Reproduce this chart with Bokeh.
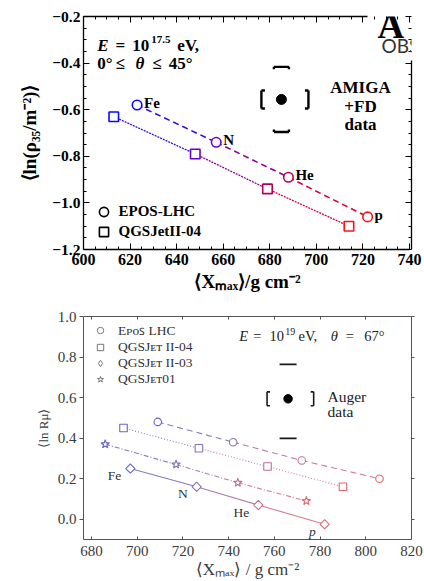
import math
from bokeh.plotting import figure
from bokeh.models import (FixedTicker, LinearAxis, Range1d, Label, Legend, LegendItem,
                          ColumnDataSource, CustomLabelingPolicy)
from bokeh.layouts import column
from bokeh.embed import file_html
from bokeh.resources import INLINE
from bokeh.core.properties import value

# ---------------- data : top panel ----------------
elements = ["Fe", "N", "He", "p"]
top_epos_xmax = [623, 657, 688, 722]
top_epos_rho = [-0.58, -0.74, -0.89, -1.06]
top_qgs_xmax = [613, 648, 679, 714]
top_qgs_rho = [-0.63, -0.79, -0.94, -1.10]
amiga_xmax = [685]
amiga_rho = [-0.556]
amiga_sys_xmax_lo = 8.6
amiga_sys_xmax_hi = 11.6
amiga_sys_rho_lo = 0.14
amiga_sys_rho_hi = 0.14
top_xticks = [600, 620, 640, 660, 680, 700, 720, 740]
top_xtick_labels = ["600", "620", "640", "660", "680", "700", "720", "740"]
top_yticks = [-1.2, -1.0, -0.8, -0.6, -0.4, -0.2]
top_ytick_labels = ["\u22121.2", "\u22121.0", "\u22120.8", "\u22120.6", "\u22120.4", "\u22120.2"]

# ---------------- data : bottom panel ----------------
bot_epos_xmax = [709, 742, 772, 806]
bot_epos_lnr = [0.48, 0.38, 0.29, 0.20]
bot_qgs4_xmax = [694, 727, 757, 790]
bot_qgs4_lnr = [0.45, 0.35, 0.26, 0.16]
bot_qgs3_xmax = [697, 726, 753, 782]
bot_qgs3_lnr = [0.25, 0.16, 0.07, -0.025]
bot_qgs01_xmax = [686, 717, 744, 774]
bot_qgs01_lnr = [0.37, 0.27, 0.18, 0.09]
auger_xmax = [766]
auger_lnr = [0.594]
auger_sys_xmax_lo = 9.2
auger_sys_xmax_hi = 11.2
auger_sys_lnr_lo = 0.195
auger_sys_lnr_hi = 0.17
bot_xticks = [680, 700, 720, 740, 760, 780, 800, 820]
bot_xtick_labels = ["680", "700", "720", "740", "760", "780", "800", "820"]
bot_yticks = [0.0, 0.2, 0.4, 0.6, 0.8, 1.0]
bot_ytick_labels = ["0.0", "0.2", "0.4", "0.6", "0.8", "1.0"]

# ---------------- styles ----------------
SERIF = "Liberation Serif"
top_colors = ["#0a0aff", "#6a00cc", "#b4005c", "#ff1010"]
top_seg_colors = ["#3a00e6", "#8f0094", "#dc0038"]
bot_colors = ["#6464c8", "#8c70b4", "#c07094", "#e06a6a"]
bot_seg_colors = ["#7a6abe", "#a670a4", "#d06d80"]
NAN = float("nan")

W = 424
FL, FR = 83, 411            # shared frame left/right (the column aligns them)

# top geometry: 600 -> x=83, 740 -> x=409
T_H, T_OY, T_FT, T_FH = 298, 0, 16, 233
T_PPU = (409 - 83) / 140.0
T_X0 = 600.0
T_X1 = T_X0 + (FR - FL) / T_PPU
T_Y0, T_Y1 = -1.2, -0.2

# bottom geometry: 680 -> x=91, 820 -> x=411
B_H, B_OY, B_FT, B_FH = 283, 298, 18, 225
B_PPU = (411 - 91) / 140.0
B_X1 = 820.0
B_X0 = B_X1 - (FR - FL) / B_PPU
B_Y0, B_Y1 = -0.1, 1.0


def top_xy(rx, ry):
    x = T_X0 + (rx - FL) / T_PPU
    y = T_Y1 - ((ry - T_OY) - T_FT) * (T_Y1 - T_Y0) / T_FH
    return x, y


def bot_xy(rx, ry):
    x = B_X0 + (rx - FL) / B_PPU
    y = B_Y1 - ((ry - B_OY) - B_FT) * (B_Y1 - B_Y0) / B_FH
    return x, y


def make_fig(H, FT, FH, xr, yr):
    p = figure(width=W, height=H,
               min_border_left=FL, min_border_right=W - FR,
               min_border_top=FT, min_border_bottom=H - FT - FH,
               x_range=Range1d(*xr), y_range=Range1d(*yr),
               output_backend="svg", toolbar_location=None,
               outline_line_color=None, background_fill_color="white",
               border_fill_color="white")
    p.grid.visible = False
    return p


HIDE = CustomLabelingPolicy(code="for (const i of indices) { indices.unset(i) }\nreturn indices")


def style_axis(ax, ticks, labels, minor, font_size, style, color, line_color,
               tin, tout, min_in, lw, standoff, show=True):
    ax.ticker = FixedTicker(ticks=ticks, minor_ticks=minor)
    ax.major_label_overrides = dict(zip(ticks, labels))
    ax.major_label_text_font = SERIF
    ax.major_label_text_font_size = font_size if show else "0px"
    ax.major_label_text_font_style = style
    ax.major_label_text_color = color
    ax.major_label_standoff = standoff if show else 0
    if not show:
        ax.major_label_policy = HIDE
    ax.axis_line_color = line_color
    ax.axis_line_width = lw
    ax.major_tick_line_color = line_color
    ax.minor_tick_line_color = line_color
    ax.major_tick_in = tin
    ax.major_tick_out = tout
    ax.minor_tick_in = min_in
    ax.minor_tick_out = 0


def sys_box(p, xs, ys, sx_lo, sx_hi, sy_lo, sy_hi, ux, uy, half_h, serif,
            half_w, end, lw, color):
    x0, y0, x1, y1 = [], [], [], []
    for x, y in zip(xs, ys):
        xl, xr_ = x - sx_lo, x + sx_hi
        yt, yb = y + sy_hi, y - sy_lo
        hh, sr, hw, en = half_h * uy, serif * ux, half_w * ux, end * uy
        segs = [(xl, y - hh, xl, y + hh), (xl, y + hh, xl + sr, y + hh), (xl, y - hh, xl + sr, y - hh),
                (xr_, y - hh, xr_, y + hh), (xr_, y + hh, xr_ - sr, y + hh), (xr_, y - hh, xr_ - sr, y - hh),
                (x - hw, yt, x + hw, yt), (x - hw, yb, x + hw, yb)]
        if end > 0:
            segs += [(x - hw, yt, x - hw, yt - en), (x + hw, yt, x + hw, yt - en),
                     (x - hw, yb, x - hw, yb + en), (x + hw, yb, x + hw, yb + en)]
        for a, b, c, d in segs:
            x0.append(a); y0.append(b); x1.append(c); y1.append(d)
    p.segment(x0, y0, x1, y1, line_color=color, line_width=lw)


def add_label(p, conv, rx, ry, text, size, style="normal", font=SERIF, align="left",
              color="black", baseline="alphabetic"):
    x, y = conv(rx, ry)
    p.add_layout(Label(x=x, y=y, text=text, text_font=font, text_font_size=size,
                       text_font_style=style, text_align=align, text_baseline=baseline,
                       text_color=color))


# ====================== TOP PANEL ======================
p1 = make_fig(T_H, T_FT, T_FH, (T_X0, T_X1), (T_Y0, T_Y1))
t_xminor = [v for v in range(600, 741, 5) if v % 20]
t_yminor = [round(-1.2 + 0.05 * i, 2) for i in range(21) if i % 4]

style_axis(p1.xaxis[0], top_xticks, top_xtick_labels, t_xminor, "16px", "bold", "black", "black", 6, 0, 3, 1.3, 4)
p1.xaxis[0].bounds = (600, 740)
style_axis(p1.yaxis[0], top_yticks, top_ytick_labels, t_yminor, "15.5px", "bold", "black", "black", 6, 0, 3, 1.3, 3)
p1.xaxis[0].axis_label = "\u27e8X\u2098\u2090\u2093\u27e9/g cm\u207b\u00b2"
p1.yaxis[0].axis_label = "\u27e8ln(\u03c1\u2083\u2085/m\u207b\u00b2)\u27e9"
for ax, sz in ((p1.xaxis[0], "19px"), (p1.yaxis[0], "19px")):
    ax.axis_label_text_font = SERIF
    ax.axis_label_text_font_style = "bold"
    ax.axis_label_text_font_size = sz
    ax.axis_label_text_color = "black"
p1.xaxis[0].axis_label_standoff = 3
p1.yaxis[0].axis_label_standoff = 9

ax_top = LinearAxis(bounds=(600, 722))
style_axis(ax_top, top_xticks, top_xtick_labels, t_xminor, "15px", "bold", "black", "black", 6, 0, 3, 1.3, 0, show=False)
p1.add_layout(ax_top, "above")
ax_right = LinearAxis(bounds=(-1.2, -0.39))
style_axis(ax_right, top_yticks, top_ytick_labels, t_yminor, "15px", "bold", "black", "black", 6, 0, 3, 1.3, 0, show=False)
p1.add_layout(ax_right, "right")

# lines
p1.segment(top_qgs_xmax[:-1], top_qgs_rho[:-1], top_qgs_xmax[1:], top_qgs_rho[1:],
           line_color=top_seg_colors, line_width=1.3, line_dash="2 1")
p1.segment(top_epos_xmax[:-1], top_epos_rho[:-1], top_epos_xmax[1:], top_epos_rho[1:],
           line_color=top_seg_colors, line_width=1.6, line_dash="6 4")
p1.scatter(top_qgs_xmax, top_qgs_rho, marker="square", size=9.5, line_color=top_colors,
           fill_color="white", line_width=1.6)
p1.scatter(top_epos_xmax, top_epos_rho, marker="circle", size=9.5, line_color=top_colors,
           fill_color="white", line_width=1.6)
p1.text(x=top_epos_xmax, y=top_epos_rho, text=elements, x_offset=7, y_offset=-2,
        text_font=value(SERIF), text_font_style="bold", text_font_size="15px",
        text_align="left", text_baseline="alphabetic", text_color="black")

# AMIGA data point with systematics
sys_box(p1, amiga_xmax, amiga_rho, amiga_sys_xmax_lo, amiga_sys_xmax_hi, amiga_sys_rho_lo,
        amiga_sys_rho_hi, 1.0 / T_PPU, (T_Y1 - T_Y0) / T_FH, 9, 3.5, 7.5, 2.5, 2.4, "black")
p1.scatter(amiga_xmax, amiga_rho, marker="circle", size=10, color="black")

# texts
for rx, ry, t, st, sz in [(96.7, 45, "E", "bold italic", "17px"), (115, 45, "=", "bold", "17px"),
                          (131.7, 45, "10", "bold", "17px"), (150.7, 39, "17.5", "bold", "11px"),
                          (176.7, 45, "eV,", "bold", "17px"),
                          (96.7, 63.3, "0\u00b0", "bold", "17px"), (115, 63.3, "\u2264", "bold", "17px"),
                          (135, 63.3, "\u03b8", "bold italic", "17px"), (151.7, 63.3, "\u2264", "bold", "17px"),
                          (168.3, 63.3, "45\u00b0", "bold", "17px")]:
    add_label(p1, top_xy, rx, ry, t, sz, st)
for ry, t in [(87.3, "AMIGA"), (106, "+FD"), (124, "data")]:
    add_label(p1, top_xy, 360, ry, t, "17px", "bold", align="center")

# logo (cropped in the original)
add_label(p1, top_xy, 377, 25, "A", "37px", "bold")
add_label(p1, top_xy, 381, 45, "OBS", "19px", "normal", font="Lato", color="#333333")

# legend
rc = p1.scatter(x=[NAN], y=[NAN], marker="circle", size=9, line_color="black", fill_color="white", line_width=1.6)
rs = p1.scatter(x=[NAN], y=[NAN], marker="square", size=9, line_color="black", fill_color="white", line_width=1.6)
for r, lab, vy in [(rc, "EPOS-LHC", 25.8), (rs, "QGSJetII-04", 6.5)]:
    p1.add_layout(Legend(items=[LegendItem(label=lab, renderers=[r])], location=(8.5, vy),
                         glyph_width=23, glyph_height=23, label_height=8, label_width=10,
                         spacing=0, padding=0, margin=0, label_standoff=4,
                         background_fill_alpha=0, border_line_alpha=0,
                         label_text_font=SERIF, label_text_font_size="15px",
                         label_text_font_style="bold", label_text_color="black"))

# ====================== BOTTOM PANEL ======================
p2 = make_fig(B_H, B_FT, B_FH, (B_X0, B_X1), (B_Y0, B_Y1))
GR = "#555555"
style_axis(p2.xaxis[0], bot_xticks, bot_xtick_labels, [], "15px", "normal", "#3a3a3a", GR, 3, 0, 0, 1, 6)
style_axis(p2.yaxis[0], bot_yticks, bot_ytick_labels, [], "15px", "normal", "#3a3a3a", GR, 0, 4, 0, 1, 3)
p2.xaxis[0].axis_label = "\u27e8X\u2098\u2090\u2093\u27e9 / g cm\u207b\u00b2"
p2.yaxis[0].axis_label = "\u27e8ln R\u03bc\u27e9"
for ax, sz in ((p2.xaxis[0], "17px"), (p2.yaxis[0], "13px")):
    ax.axis_label_text_font = SERIF
    ax.axis_label_text_font_style = "normal"
    ax.axis_label_text_font_size = sz
    ax.axis_label_text_color = "#3a3a3a"
p2.xaxis[0].axis_label_standoff = 1
p2.yaxis[0].axis_label_standoff = 4

ax2_top = LinearAxis()
style_axis(ax2_top, bot_xticks, bot_xtick_labels, [], "13px", "normal", "#444", GR, 3, 0, 0, 1, 0, show=False)
p2.add_layout(ax2_top, "above")
ax2_right = LinearAxis()
style_axis(ax2_right, bot_yticks, bot_ytick_labels, [], "13px", "normal", "#444", GR, 0, 3, 0, 1, 0, show=False)
p2.add_layout(ax2_right, "right")

series = [(bot_epos_xmax, bot_epos_lnr, "6 4", "circle", 7.5, 0),
          (bot_qgs4_xmax, bot_qgs4_lnr, "1 2", "square", 7.5, 0),
          (bot_qgs3_xmax, bot_qgs3_lnr, "solid", "square", 6.5, math.pi / 4),
          (bot_qgs01_xmax, bot_qgs01_lnr, "5 2 1 2", "star", 9, 0)]
for xs, ys, dash, mk, sz, ang in series:
    p2.segment(xs[:-1], ys[:-1], xs[1:], ys[1:], line_color=bot_seg_colors, line_width=1.1,
               line_dash=dash, line_alpha=0.9)
for xs, ys, dash, mk, sz, ang in series:
    p2.scatter(xs, ys, marker=mk, size=sz, angle=ang, line_color=bot_colors, fill_color="white",
               line_width=1.1)

lab_src = ColumnDataSource(dict(x=bot_qgs3_xmax, y=bot_qgs3_lnr, t=elements,
                                fs=["normal", "normal", "normal", "italic"]))
p2.text(x="x", y="y", text="t", source=lab_src, x_offset=-9, y_offset=7,
        text_font=value(SERIF), text_font_style="fs", text_font_size="13.5px",
        text_align="right", text_baseline="middle", text_color="#333333")

sys_box(p2, auger_xmax, auger_lnr, auger_sys_xmax_lo, auger_sys_xmax_hi, auger_sys_lnr_lo,
        auger_sys_lnr_hi, 1.0 / B_PPU, (B_Y1 - B_Y0) / B_FH, 7, 3, 8.5, 0, 1.6, "#1a1a1a")
p2.scatter(auger_xmax, auger_lnr, marker="circle", size=8.5, color="black")

for rx, ry, t, st, sz in [(238.7, 336, "E", "italic", "14.5px"), (252.7, 336, "=", "normal", "14.5px"),
                          (269, 336, "10", "normal", "14.5px"), (284.7, 331, "19", "normal", "10px"),
                          (298, 336, "eV,", "normal", "14.5px"), (330.3, 336, "\u03b8", "italic", "14.5px"),
                          (345.3, 336, "=", "normal", "14.5px"), (363.7, 336, "67\u00b0", "normal", "14.5px")]:
    add_label(p2, bot_xy, rx, ry, t, sz, st, color="#222222")
add_label(p2, bot_xy, 327, 396.7, "Auger", "15.5px", color="#222222")
add_label(p2, bot_xy, 327, 411.7, "data", "15.5px", color="#222222")

LG = "#777777"
d1 = p2.scatter(x=[NAN], y=[NAN], marker="circle", size=6, line_color=LG, fill_color="white", line_width=1)
d2 = p2.scatter(x=[NAN], y=[NAN], marker="square", size=6, line_color=LG, fill_color="white", line_width=1)
d3 = p2.scatter(x=[NAN], y=[NAN], marker="diamond", size=6, line_color=LG, fill_color="white", line_width=1)
d4 = p2.scatter(x=[NAN], y=[NAN], marker="star", size=6, line_color=LG, fill_color="white", line_width=1)
p2.add_layout(Legend(items=[LegendItem(label="E\u1d18\u1d0f\ua731 LHC", renderers=[d1]),
                            LegendItem(label="QGSJ\u1d07\u1d1b II-04", renderers=[d2]),
                            LegendItem(label="QGSJ\u1d07\u1d1b II-03", renderers=[d3]),
                            LegendItem(label="QGSJ\u1d07\u1d1b01", renderers=[d4])],
                     location=(9, 152), glyph_width=16, glyph_height=16, label_height=8,
                     label_width=10, spacing=0, padding=0, margin=0, label_standoff=10,
                     background_fill_alpha=0, border_line_alpha=0,
                     label_text_font=SERIF, label_text_font_size="13.5px",
                     label_text_color="#333333"))

layout = column(p1, p2)
open("out.html", "w").write(file_html(layout, INLINE))
